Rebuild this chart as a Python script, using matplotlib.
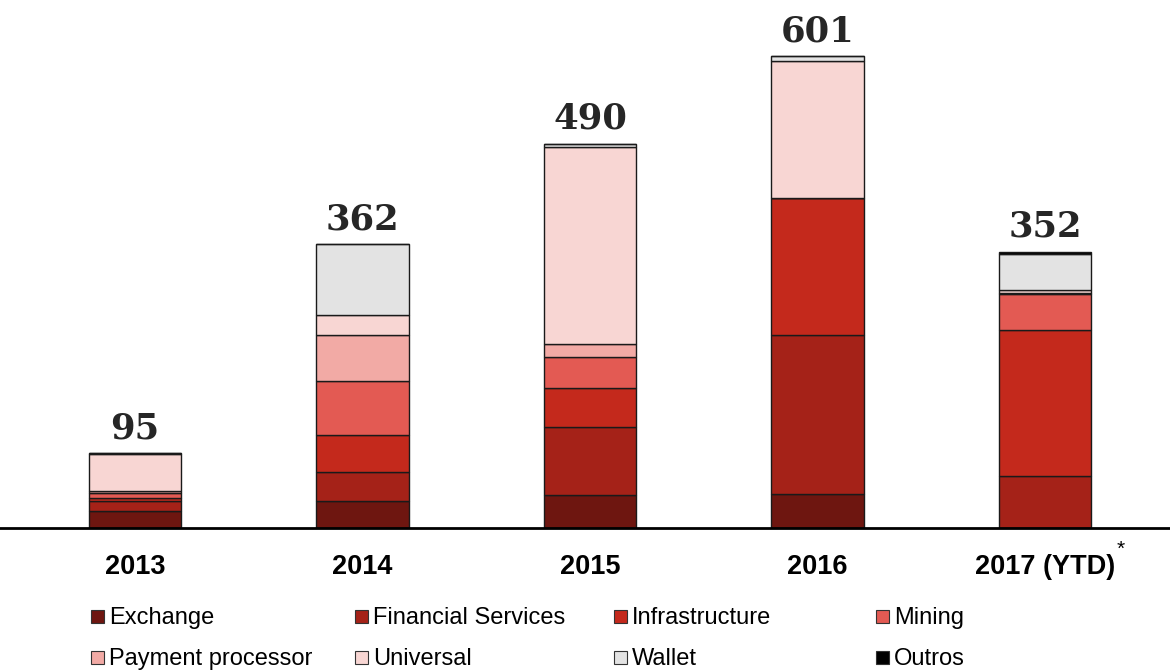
import matplotlib.pyplot as plt
from matplotlib.patches import Rectangle

years = ["2013", "2014", "2015", "2016", "2017 (YTD)"]
totals = [95, 362, 490, 601, 352]

# segment values per category (bottom to top)
series = ["Exchange", "Financial Services", "Infrastructure", "Mining",
          "Payment processor", "Universal", "Wallet", "Outros"]
exchange = [22, 35, 42, 43, 0]
financial = [13, 36, 87, 203, 66]
infrastructure = [3, 47, 50, 174, 187]
mining = [6, 70, 39, 0, 45]
payment = [3, 58, 17, 0, 2]
universal = [47, 26, 250, 175, 3]
wallet = [1, 90, 5, 6, 46]
outros = [0, 0, 0, 0, 3]

values = [exchange, financial, infrastructure, mining, payment, universal, wallet, outros]
colors = ["#6E1610", "#A52218", "#C4291C", "#E35A53",
          "#F2AAA5", "#F8D6D3", "#E3E3E3", "#000000"]

fig = plt.figure(figsize=(11.7, 6.7), dpi=100)
ax = fig.add_axes([0, 142 / 670, 1, 528 / 670])

x = list(range(len(years)))
bottom = [0] * len(years)
for vals, col in zip(values, colors):
    ax.bar(x, vals, width=0.405, bottom=bottom, color=col,
           edgecolor="#1a1a1a", linewidth=1.0)
    bottom = [b + v for b, v in zip(bottom, vals)]

for xi, t, top in zip(x, totals, bottom):
    ax.text(xi, top + 10, str(t), ha="center", va="bottom", fontsize=25.5,
            fontweight="bold", family="DejaVu Serif", color="#262626")

ax.set_xlim(-135 / 227.5, 4 + 125 / 227.5)
ax.set_ylim(0, 673)
for s in ["top", "right", "left"]:
    ax.spines[s].set_visible(False)
ax.spines["bottom"].set_linewidth(2)
ax.set_yticks([])
ax.set_xticks(x)
ax.set_xticklabels(years, fontsize=19.5, fontweight="bold", family="Liberation Sans")
ax.tick_params(axis="x", length=0, pad=19)
ax.text(4 + 76 / 227.5, -27, "*", fontsize=15, family="Liberation Sans",
        ha="center", va="center")

# legend, 2 rows x 4 columns
col_x = [91, 355, 614, 876]
row_y = [616, 657]
for i, (name, col) in enumerate(zip(series, colors)):
    px = col_x[i % 4]
    py = row_y[i // 4]
    fig.patches.append(Rectangle((px / 1170, 1 - (py + 6.5) / 670), 13 / 1170, 13 / 670,
                                 facecolor=col, edgecolor="#333333", linewidth=0.8,
                                 transform=fig.transFigure))
    fig.text((px + 18) / 1170, 1 - (py + 2) / 670, name, fontsize=17,
             family="Liberation Sans", va="center", ha="left")

fig.savefig("out.png", dpi=100)
